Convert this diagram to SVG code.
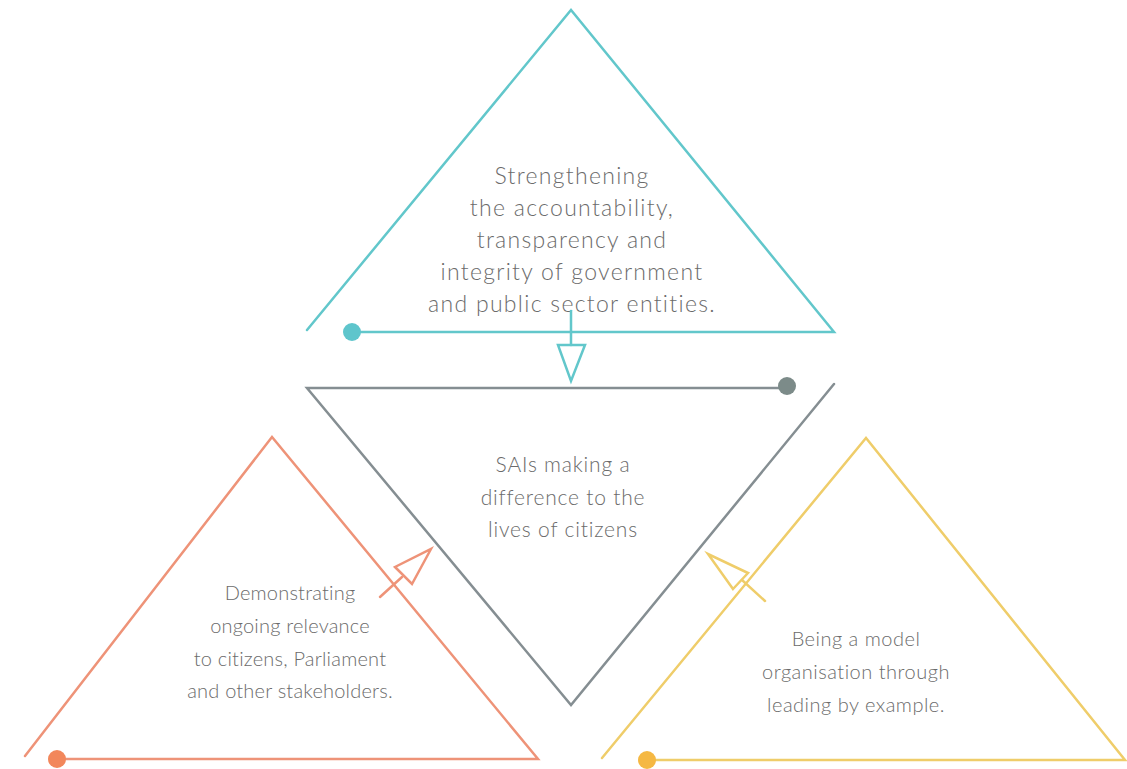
<svg xmlns="http://www.w3.org/2000/svg" width="1127" height="769" viewBox="0 0 1127 769">
<style>
.t{font-family:Lato,"Open Sans","Liberation Sans",sans-serif;font-size:20px;fill:#6b6b6b;text-anchor:middle;font-weight:300}
.t1{font-size:23px;letter-spacing:1.3px}
.t2{font-size:21px;letter-spacing:0.8px}
.t3{font-size:20px;letter-spacing:0.2px}
.t4{font-size:20px;letter-spacing:0.5px}
.ln{fill:none;stroke-width:2.5;stroke-linejoin:miter;stroke-linecap:round}
.teal{stroke:#62c7cb}.gray{stroke:#858e92}.org{stroke:#ee9378}.yel{stroke:#efcd6a}
</style>
<rect width="1127" height="769" fill="#ffffff"/>
<g id="top">
<polyline class="ln teal" points="307,330 571,10 834,332 352,332"/>
<circle cx="352" cy="332" r="9" fill="#5ec5cc"/>
<text class="t t1" x="572" y="184">Strengthening</text>
<text class="t t1" x="572" y="216">the accountability,</text>
<text class="t t1" x="572" y="248">transparency and</text>
<text class="t t1" x="572" y="280">integrity of government</text>
<text class="t t1" x="572" y="312">and public sector entities.</text>
</g>
<g id="center">
<polyline class="ln gray" points="787,388 307,388 571,705 834,384"/>
<circle cx="787" cy="386" r="9" fill="#7c8b89"/>
<text class="t t2" x="563" y="472">SAIs making a</text>
<text class="t t2" x="563" y="505">difference to the</text>
<text class="t t2" x="563" y="537">lives of citizens</text>
</g>
<g id="left">
<polyline class="ln org" points="25,756 272,437 538,759 57,759"/>
<circle cx="57" cy="759" r="9" fill="#f2875b"/>
<text class="t t3" x="290" y="600">Demonstrating</text>
<text class="t t3" x="290" y="633">ongoing relevance</text>
<text class="t t3" x="290" y="666">to citizens, Parliament</text>
<text class="t t3" x="290" y="698">and other stakeholders.</text>
</g>
<g id="right">
<polyline class="ln yel" points="602,758 866,438 1125,760 647,760"/>
<circle cx="647" cy="760" r="9" fill="#f5b843"/>
<text class="t t4" x="856" y="646">Being a model</text>
<text class="t t4" x="856" y="679">organisation through</text>
<text class="t t4" x="856" y="712">leading by example.</text>
</g>
<g id="connectors">
<line class="ln teal" x1="571" y1="311" x2="571" y2="345"/>
<polygon class="ln teal" points="558,345 585,345 571,381"/>
<line class="ln org" x1="380" y1="597" x2="402" y2="577"/>
<polygon class="ln org" points="395,567 412,584 431,549"/>
<line class="ln yel" x1="765" y1="601" x2="742" y2="580"/>
<polygon class="ln yel" points="733,589 748,573 708,554"/>
</g>
</svg>
